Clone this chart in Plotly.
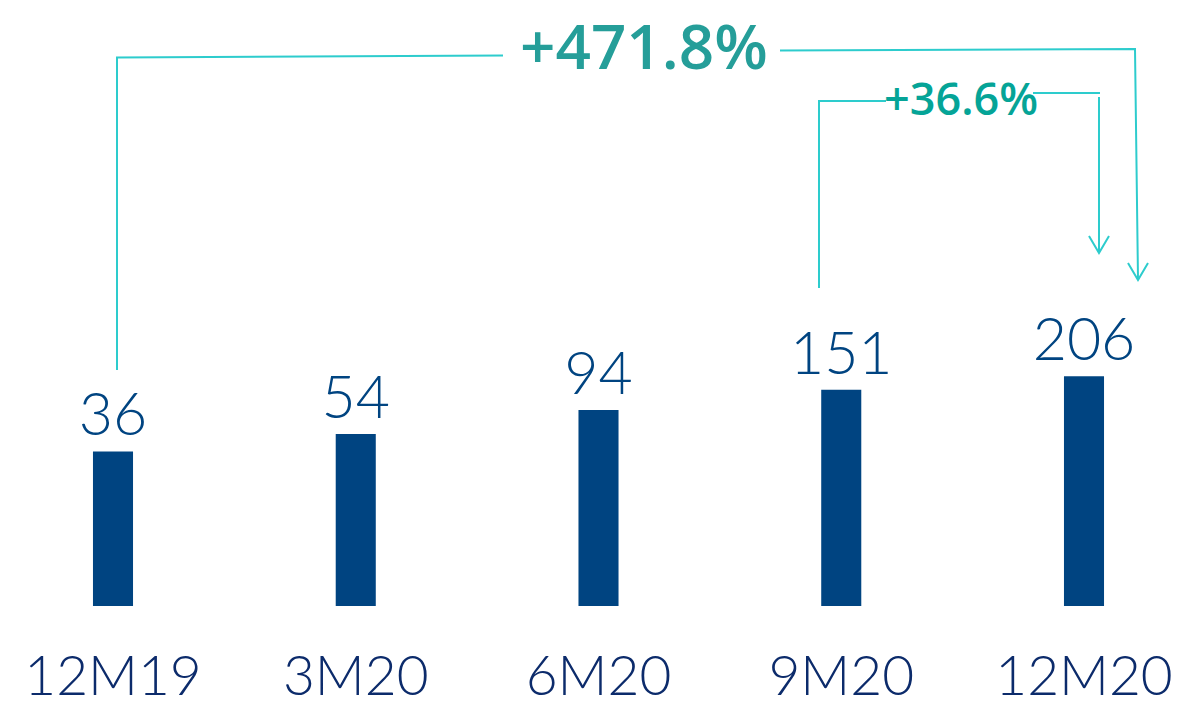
import plotly.graph_objects as go

# ── Data ──────────────────────────────────────────────────────────────────────
categories = ["12M19", "3M20", "6M20", "9M20", "12M20"]
values = [36, 54, 94, 151, 206]
growth_labels = ["+471.8%", "+36.6%"]

W, H = 1179, 705
PLOT_BOTTOM = 606  # pixel row of the x axis

BAR_COLOR = "#004481"
NAVY = "#0C2B6B"
LINE_COLOR = "#2DCCCD"


def px(x):
    return x / W


def py(y):
    return (PLOT_BOTTOM - y) / PLOT_BOTTOM


fig = go.Figure(go.Bar(
    x=list(range(len(categories))),
    y=values,
    width=0.165,
    marker=dict(color=BAR_COLOR, line=dict(width=0)),
    text=[str(v) for v in values],
    textposition="outside",
    constraintext="none",
    textfont=dict(family="Lato", size=59, color=BAR_COLOR, weight=300),
    cliponaxis=False,
))

# ── Connector lines ──────────────────────────────────────────────────────────
segments = [
    # +471.8%
    [(117, 370), (117, 57.5), (503, 55.5)],
    [(780, 50.5), (1135, 49), (1138, 279)],
    # +36.6%
    [(819, 288), (819, 101), (886, 101)],
    [(1033, 93), (1100, 93)],
    [(1099, 97), (1099, 252)],
]
arrow_tips = [(1138, 280), (1099, 253)]

shapes = []
for seg in segments:
    path = "M " + " L ".join(f"{px(x)},{py(y)}" for x, y in seg)
    shapes.append(dict(type="path", path=path, xref="paper", yref="paper",
                       line=dict(color=LINE_COLOR, width=2)))
for tx, ty in arrow_tips:
    path = (f"M {px(tx - 10)},{py(ty - 17)} L {px(tx)},{py(ty)} "
            f"L {px(tx + 10)},{py(ty - 17)}")
    shapes.append(dict(type="path", path=path, xref="paper", yref="paper",
                       line=dict(color=LINE_COLOR, width=2)))

annotations = [
    dict(text=growth_labels[0], x=px(644), y=py(45), xref="paper", yref="paper",
         xanchor="center", yanchor="middle", showarrow=False,
         font=dict(family="Open Sans", size=62, color="#259E99", weight=600)),
    dict(text=growth_labels[1], x=px(961), y=py(97), xref="paper", yref="paper",
         xanchor="center", yanchor="middle", showarrow=False,
         font=dict(family="Open Sans", size=45, color="#05A497", weight=600)),
]

fig.update_layout(
    width=W, height=H,
    margin=dict(l=0, r=0, t=0, b=H - PLOT_BOTTOM),
    paper_bgcolor="white",
    plot_bgcolor="white",
    showlegend=False,
    shapes=shapes,
    annotations=annotations,
    xaxis=dict(
        range=[-113 / 242.75, (W - 113) / 242.75],
        tickmode="array",
        tickvals=list(range(len(categories))),
        ticktext=categories,
        tickfont=dict(family="Lato", size=55, color=NAVY, weight=300),
        ticklabelstandoff=33,
        automargin=False,
        showgrid=False, zeroline=False, showline=False, ticks="",
    ),
    yaxis=dict(
        type="log",
        range=[0, PLOT_BOTTOM / 99.3],
        visible=False,
        showgrid=False,
        automargin=False,
    ),
)

fig.write_html("out.html", config={"displayModeBar": False},
               post_script="document.body.style.margin='0';")
